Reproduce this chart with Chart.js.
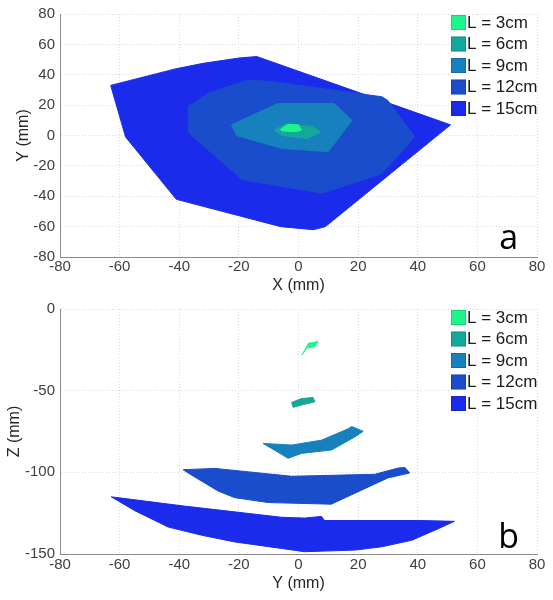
<!DOCTYPE html>
<html>
<head>
<meta charset="utf-8">
<script src="https://cdn.jsdelivr.net/npm/chart.js@4"></script>
<style>
  body { margin: 0; background: #fff; }
  canvas { display: block; }
</style>
</head>
<body>
<canvas id="graficoA" width="553" height="295"></canvas>
<canvas id="graficoB" width="553" height="305"></canvas>
<script>
'use strict'

const etiquetas = ['L = 3cm', 'L = 6cm', 'L = 9cm', 'L = 12cm', 'L = 15cm']
const colores   = ['#1ef58c', '#14a89a', '#1681bd', '#1a4dcc', '#1b2bec']

// Vista superior: X vs Y (mm)
const aX3  = [-6, -3.5, 0, 1, -1, -5.5]
const aY3  = [4, 7.5, 7, 3.5, 2.5, 3]
const aX6  = [-8, -4.5, 4.5, 7.5, 3, -5.5]
const aY6  = [3.5, 7.5, 6, 2.5, -2, 0]
const aX9  = [-22.5, -7, 12, 18, 10, -5.7, -20.8]
const aY9  = [7, 21, 21, 10, -10.6, -8.5, 0]
const aX12 = [-37, -30, -17, -9, 28, 30, 39, 28, 8, -19, -37]
const aY12 = [19, 28, 36.5, 35.5, 25.5, 23, -1, -25, -38, -29, 2]
const aX15 = [-63, -41, -32, -20, -14, 51, 9, 5, -6, -41, -58]
const aY15 = [33, 44, 47.5, 51, 52, 7, -60, -62, -60, -42, -1]

// Vista lateral: Y vs Z (mm)
const bY3  = [1.2, 1.6, 3.3, 6.6, 5.5, 2.7]
const bZ3  = [-28, -27, -21, -20, -23, -24]
const bY6  = [-2.3, 1, 4.9, 5.5, 1, -1.8]
const bZ6  = [-57.2, -54.8, -54.2, -56.8, -58.8, -60.2]
const bY9  = [-11.9, -2.3, 7.7, 16.7, 17.8, 21.7, 18.9, 11.1, 1, -3.5, -5.7, -9]
const bZ9  = [-82.3, -83.3, -80.3, -73.3, -71.9, -74.9, -78.3, -86.3, -88.4, -91.4, -89, -85.4]
const bY12 = [-38.7, -28, -2.3, 25.6, 33.4, 35.7, 37.3, 30, 11, -10.2, -21.4, -27, -32.5, -37]
const bZ12 = [-98.4, -97.6, -102.4, -101.2, -97.4, -97, -100.4, -103.4, -119.5, -118.5, -115.5, -111.4, -105.4, -100.4]
const bY15 = [-62.8, -39, -5.7, 2, 7.7, 8.7, 41, 52.3, 46.9, 38, 27.9, 19, 2, -5.7, -21.4, -32.5, -43.7, -54.9]
const bZ15 = [-115, -120.5, -127.5, -128, -127, -129.5, -129.5, -130, -134.5, -141.6, -145.6, -147.6, -148.6, -146.6, -142.6, -138.5, -133.5, -123.5]

const ticksX  = [-80, -60, -40, -20, 0, 20, 40, 60, 80]
const ticksYa = [-80, -60, -40, -20, 0, 20, 40, 60, 80]
const ticksZb = [-150, -100, -50, 0]

const fuente = 'Liberation Sans, Arial, sans-serif'

function puntos(xs, ys) {
  const p = xs.map((x, i) => ({ x: x, y: ys[i] }))
  p.push({ x: xs[0], y: ys[0] })
  return p
}

function series(pares) {
  return pares.map((par, i) => ({
    label: etiquetas[i],
    data: puntos(par[0], par[1]),
    showLine: true,
    fill: 'shape',
    backgroundColor: colores[i],
    borderColor: colores[i],
    borderWidth: 1,
    pointRadius: 0,
    tension: 0
  }))
}

// Leyenda y letra dibujadas sobre el grafico
function pluginLeyenda(letra, bajoLetra) {
  return {
    id: 'leyenda' + letra,
    afterDraw(chart) {
      const c = chart.ctx
      const area = chart.chartArea
      c.save()
      c.fillStyle = '#fff'
      c.fillRect(449, area.top + 1, area.right - 449, 104)
      chart.data.datasets.forEach((ds, i) => {
        const y0 = area.top + 1 + i * 21.5
        c.fillStyle = ds.backgroundColor
        c.fillRect(451, y0, 15, 15)
        c.strokeStyle = 'rgba(0,0,0,0.15)'
        c.lineWidth = 1
        c.strokeRect(451.5, y0 + 0.5, 14, 14)
        c.fillStyle = '#1a1a1a'
        c.font = '17px ' + fuente
        c.textBaseline = 'middle'
        c.textAlign = 'left'
        c.fillText(ds.label, 467, y0 + 8)
      })
      const sx = chart.scales.x
      const sy = chart.scales.y
      c.font = '34px "Open Sans", sans-serif'
      c.fillStyle = '#000'
      c.textAlign = 'center'
      c.textBaseline = 'alphabetic'
      c.fillText(letra, sx.getPixelForValue(70.5), sy.getPixelForValue(bajoLetra))
      c.restore()
    }
  }
}

function ejes(ticksY, tituloX, tituloY, cfg) {
  const rejilla = { color: '#dadada', drawTicks: false, lineWidth: 1 }
  return {
    x: {
      type: 'linear', min: -80, max: 80,
      afterBuildTicks: s => { s.ticks = ticksX.map(v => ({ value: v })) },
      afterFit: s => { s.height = cfg.altoX },
      grid: rejilla,
      border: { display: true, color: '#8c8c8c', width: 1, dash: [1, 2] },
      ticks: { color: '#404040', font: { family: fuente, size: 15 }, padding: cfg.padX, maxRotation: 0, autoSkip: false },
      title: { display: true, text: tituloX, color: '#262626', font: { family: fuente, size: 16 }, padding: { top: 0, bottom: cfg.titX } }
    },
    y: {
      type: 'linear', min: ticksY[0], max: ticksY[ticksY.length - 1],
      afterBuildTicks: s => { s.ticks = ticksY.map(v => ({ value: v })) },
      afterFit: s => { s.width = 60 },
      grid: rejilla,
      border: { display: true, color: '#8c8c8c', width: 1, dash: [1, 2] },
      ticks: { color: '#404040', font: { family: fuente, size: 15 }, padding: 5, autoSkip: false },
      title: { display: true, text: tituloY, color: '#262626', font: { family: fuente, size: 16 }, padding: { top: cfg.titY, bottom: 0 } }
    }
  }
}

new Chart(document.getElementById('graficoA').getContext('2d'), {
  type: 'scatter',
  data: {
    datasets: series([[aX3, aY3], [aX6, aY6], [aX9, aY9], [aX12, aY12], [aX15, aY15]])
  },
  options: {
    responsive: false,
    animation: false,
    devicePixelRatio: 1,
    layout: { padding: { top: 14, right: 16, left: 0, bottom: 0 } },
    plugins: { legend: { display: false }, tooltip: { enabled: false } },
    scales: ejes(ticksYa, 'X (mm)', 'Y (mm)', { altoX: 38, padX: 1, titX: 0, titY: 14 })
  },
  plugins: [pluginLeyenda('a', -75)]
})

new Chart(document.getElementById('graficoB').getContext('2d'), {
  type: 'scatter',
  data: {
    datasets: series([[bY3, bZ3], [bY6, bZ6], [bY9, bZ9], [bY12, bZ12], [bY15, bZ15]])
  },
  options: {
    responsive: false,
    animation: false,
    devicePixelRatio: 1,
    layout: { padding: { top: 10, right: 16, left: 0, bottom: 0 } },
    plugins: { legend: { display: false }, tooltip: { enabled: false } },
    scales: ejes(ticksZb, 'Y (mm)', 'Z (mm)', { altoX: 46, padX: 2, titX: 7, titY: 5 })
  },
  plugins: [pluginLeyenda('b', -146.5)]
})
</script>
</body>
</html>
